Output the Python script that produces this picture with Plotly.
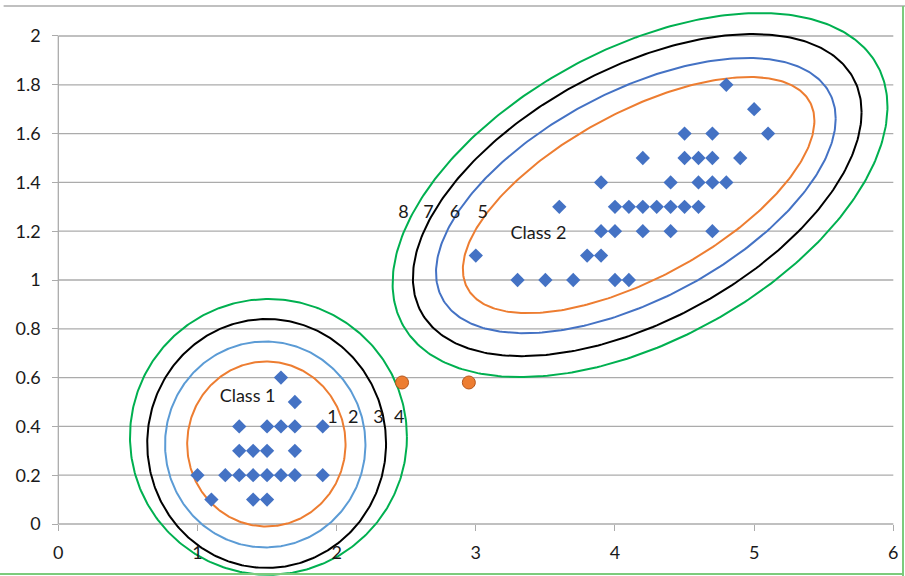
import numpy as np
import plotly.graph_objects as go

# ---------------- data ----------------
class1_x = [1.6, 1.7, 1.3, 1.5, 1.6, 1.7, 1.9, 1.3, 1.4, 1.5, 1.7,
            1.0, 1.2, 1.3, 1.4, 1.5, 1.6, 1.7, 1.9, 1.1, 1.4, 1.5]
class1_y = [0.6, 0.5, 0.4, 0.4, 0.4, 0.4, 0.4, 0.3, 0.3, 0.3, 0.3,
            0.2, 0.2, 0.2, 0.2, 0.2, 0.2, 0.2, 0.2, 0.1, 0.1, 0.1]

class2_x = [4.8, 5.0, 4.5, 4.7, 5.1, 4.2, 4.5, 4.6, 4.7, 4.9,
            3.9, 4.4, 4.6, 4.7, 4.8, 3.6, 4.0, 4.1, 4.2, 4.3, 4.4, 4.5, 4.6,
            3.9, 4.0, 4.2, 4.4, 4.7, 3.0, 3.8, 3.9, 3.3, 3.5, 3.7, 4.0, 4.1]
class2_y = [1.8, 1.7, 1.6, 1.6, 1.6, 1.5, 1.5, 1.5, 1.5, 1.5,
            1.4, 1.4, 1.4, 1.4, 1.4, 1.3, 1.3, 1.3, 1.3, 1.3, 1.3, 1.3, 1.3,
            1.2, 1.2, 1.2, 1.2, 1.2, 1.1, 1.1, 1.1, 1.0, 1.0, 1.0, 1.0, 1.0]

test_x = [2.47, 2.95]
test_y = [0.58, 0.58]

# contour ellipses: centre, half-width, half-height, tilt phase (deg)
c1_cx = [1.495, 1.487, 1.497, 1.51]
c1_cy = [0.328, 0.326, 0.330, 0.357]
c1_rx = [0.569, 0.720, 0.858, 0.995]
c1_ry = [0.338, 0.422, 0.510, 0.565]
c1_phase = [0, 0, 0, 0]

c2_cx = [4.17, 4.15, 4.16, 4.18]
c2_cy = [1.348, 1.346, 1.348, 1.348]
c2_rx = [1.263, 1.436, 1.612, 1.778]
c2_ry = [0.484, 0.564, 0.660, 0.746]
c2_phase = [39, 34, 31, 29]

contour_colors_1 = ["#ED7D31", "#5B9BD5", "#000000", "#00B050"]
contour_colors_2 = ["#ED7D31", "#4472C4", "#000000", "#00B050"]

num_labels = ["1", "2", "3", "4", "5", "6", "7", "8"]
num_x = [1.97, 2.12, 2.30, 2.45, 3.05, 2.85, 2.66, 2.48]
num_y = [0.434, 0.434, 0.434, 0.434, 1.274, 1.274, 1.274, 1.274]

class_labels = ["Class 1", "Class 2"]
class_lab_x = [1.36, 3.45]
class_lab_y = [0.52, 1.185]

x_ticks = [0, 1, 2, 3, 4, 5, 6]
y_ticks = [0, 0.2, 0.4, 0.6, 0.8, 1, 1.2, 1.4, 1.6, 1.8, 2]
y_tick_text = ["0", "0.2", "0.4", "0.6", "0.8", "1", "1.2", "1.4", "1.6", "1.8", "2"]

# ---------------- figure ----------------
X_RANGE = [-0.419, 6.084]
Y_RANGE = [-0.2131, 2.1475]
FONT = "Lato"
GRID = "#ABABAB"
TXT = "#1a1a1a"

fig = go.Figure()

t = np.linspace(0, 2 * np.pi, 361)


def ellipse(cx, cy, rx, ry, ph):
    p = np.deg2rad(ph)
    return cx + rx * np.cos(t), cy + ry * np.sin(t + p)


for i in range(4):
    ex, ey = ellipse(c1_cx[i], c1_cy[i], c1_rx[i], c1_ry[i], c1_phase[i])
    fig.add_trace(go.Scatter(x=ex, y=ey, mode="lines",
                             line=dict(color=contour_colors_1[i], width=2),
                             hoverinfo="skip", showlegend=False))
for i in range(4):
    ex, ey = ellipse(c2_cx[i], c2_cy[i], c2_rx[i], c2_ry[i], c2_phase[i])
    fig.add_trace(go.Scatter(x=ex, y=ey, mode="lines",
                             line=dict(color=contour_colors_2[i], width=2),
                             hoverinfo="skip", showlegend=False))

fig.add_trace(go.Scatter(x=class1_x, y=class1_y, mode="markers",
                         marker=dict(symbol="diamond", size=11, color="#4472C4"),
                         showlegend=False))
fig.add_trace(go.Scatter(x=class2_x, y=class2_y, mode="markers",
                         marker=dict(symbol="diamond", size=11, color="#4472C4"),
                         showlegend=False))
fig.add_trace(go.Scatter(x=test_x, y=test_y, mode="markers",
                         marker=dict(symbol="circle", size=13, color="#ED7D31",
                                     line=dict(color="#B5561C", width=1)),
                         showlegend=False))

fig.add_trace(go.Scatter(x=num_x, y=num_y, mode="text", text=num_labels,
                         textfont=dict(family=FONT, size=18, color=TXT),
                         hoverinfo="skip", showlegend=False))
fig.add_trace(go.Scatter(x=class_lab_x, y=class_lab_y, mode="text", text=class_labels,
                         textfont=dict(family=FONT, size=18, color=TXT),
                         hoverinfo="skip", showlegend=False))

shapes = []
# horizontal gridlines
for yv in y_ticks[1:]:
    shapes.append(dict(type="line", xref="x", yref="y", x0=0, x1=6, y0=yv, y1=yv,
                       line=dict(color=GRID, width=1.3), layer="below"))
# axis lines
shapes.append(dict(type="line", xref="x", yref="y", x0=0, x1=6, y0=0, y1=0,
                   line=dict(color=GRID, width=1.3), layer="below"))
shapes.append(dict(type="line", xref="x", yref="y", x0=0, x1=0, y0=0, y1=2,
                   line=dict(color=GRID, width=1.3), layer="below"))
# chart frame
shapes.append(dict(type="line", xref="paper", yref="paper", x0=0.004, x1=1, y0=1 - 6 / 576, y1=1 - 6 / 576,
                   line=dict(color="#ABABAB", width=1.3), layer="above"))
shapes.append(dict(type="line", xref="paper", yref="paper", x0=903 / 905, x1=903 / 905, y0=0, y1=1 - 6 / 576,
                   line=dict(color="#7CCB7C", width=2), layer="above"))
shapes.append(dict(type="line", xref="paper", yref="paper", x0=0, x1=903 / 905, y0=2 / 576, y1=2 / 576,
                   line=dict(color="#7CCB7C", width=2), layer="above"))

x0_frac = (0 - X_RANGE[0]) / (X_RANGE[1] - X_RANGE[0])
y0_frac = (0 - Y_RANGE[0]) / (Y_RANGE[1] - Y_RANGE[0])

fig.update_layout(
    width=905, height=576,
    margin=dict(l=0, r=0, t=0, b=0),
    paper_bgcolor="white", plot_bgcolor="white",
    shapes=shapes,
    font=dict(family=FONT, size=18, color=TXT),
    xaxis=dict(range=X_RANGE, showgrid=False, zeroline=False, showline=False,
               tickvals=x_ticks, ticktext=[str(v) for v in x_ticks],
               ticks="outside", ticklen=6, tickcolor=GRID, tickwidth=1.3,
               anchor="free", position=y0_frac, side="bottom",
               tickfont=dict(family=FONT, size=18, color=TXT),
               ticklabelstandoff=6, automargin=False, fixedrange=True),
    yaxis=dict(range=Y_RANGE, showgrid=False, zeroline=False, showline=False,
               tickvals=y_ticks, ticktext=y_tick_text,
               ticks="outside", ticklen=6, tickcolor=GRID, tickwidth=1.3,
               anchor="free", position=x0_frac, side="left",
               tickfont=dict(family=FONT, size=18, color=TXT),
               ticklabelstandoff=8, automargin=False, fixedrange=True),
)

fig.write_html("out.html", config={"displayModeBar": False},
               post_script="document.body.style.margin='0';document.body.style.overflow='hidden';")
